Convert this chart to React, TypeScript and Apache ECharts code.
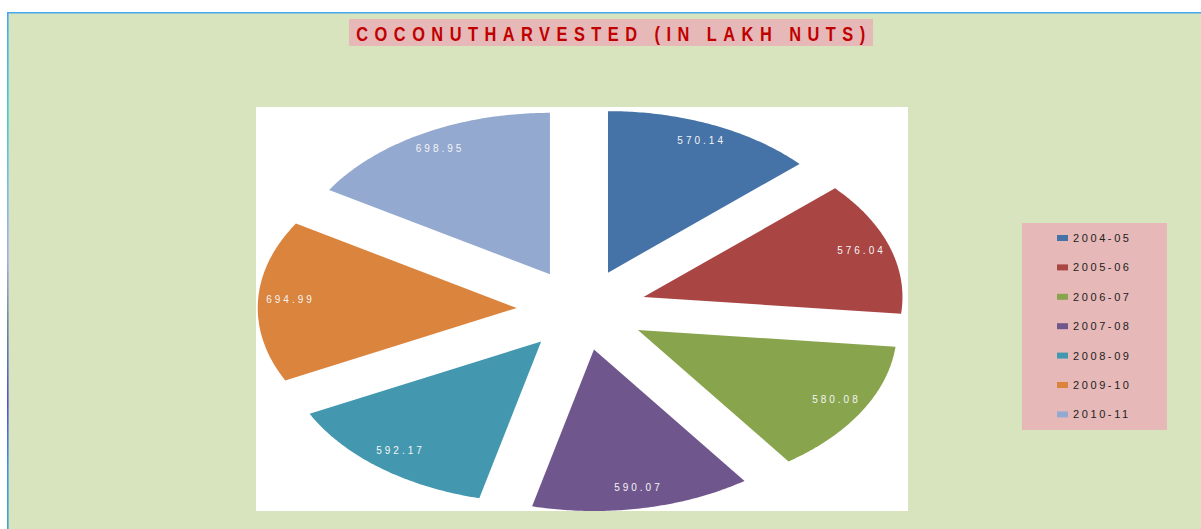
import React, { useEffect, useRef } from "react";
import * as echarts from "echarts";

const categories = ["2004-05", "2005-06", "2006-07", "2007-08", "2008-09", "2009-10", "2010-11"];
const values = [570.14, 576.04, 580.08, 590.07, 592.17, 694.99, 698.95];
const colors = ["#4572A7", "#A94543", "#88A44D", "#6F578E", "#4398AF", "#DB843D", "#93A9CF"];
const titleText = "COCONUTHARVESTED (IN LAKH NUTS)";

const CX = 581.7;
const CY = 309.7;
const RX = 259;
const RY = 161.5;
const EXPLODE = 0.251;
const LABEL_POS = 0.88;

export default function App() {
  const ref = useRef<HTMLDivElement>(null);
  useEffect(() => {
    const chart = echarts.init(ref.current!, null, { renderer: "svg" });
    const total = values.reduce((s, v) => s + v, 0);
    const starts: number[] = [];
    let acc = 0;
    values.forEach((v) => {
      starts.push((acc / total) * Math.PI * 2);
      acc += v;
    });
    const series = categories.map((name, i) => ({
      type: "custom",
      name,
      coordinateSystem: "none",
      data: [[values[i]]],
      renderItem: (_params: any, api: any) => {
        const v = api.value(0) as number;
        const a0 = starts[i];
        const a1 = a0 + (v / total) * Math.PI * 2;
        const mid = (a0 + a1) / 2;
        const tx = CX + EXPLODE * RX * Math.sin(mid);
        const ty = CY - EXPLODE * RY * Math.cos(mid);
        const pts: number[][] = [[tx, ty]];
        const N = 80;
        for (let k = 0; k <= N; k++) {
          const t = a0 + ((a1 - a0) * k) / N;
          pts.push([tx + RX * Math.sin(t), ty - RY * Math.cos(t)]);
        }
        const lx = tx + LABEL_POS * RX * Math.sin(mid);
        const ly = ty - LABEL_POS * RY * Math.cos(mid);
        return {
          type: "group",
          children: [
            { type: "polygon", shape: { points: pts }, style: { fill: api.visual("color") } },
            {
              type: "text",
              x: lx + 1.5,
              y: ly - 2,
              style: {
                text: v.toFixed(2),
                fill: "#f4f4f4",
                fontSize: 10,
                fontFamily: "Liberation Sans",
                align: "center",
                verticalAlign: "middle",
              },
            },
          ],
        };
      },
    }));

    chart.setOption({
      animation: false,
      backgroundColor: "#ffffff",
      color: colors,
      legend: {
        orient: "vertical",
        left: 1057,
        top: 232,
        padding: 0,
        itemWidth: 11,
        itemHeight: 6,
        itemGap: 17.4,
        icon: "rect",
        selectedMode: false,
        data: categories,
        textStyle: { fontSize: 11, lineHeight: 12, color: "#222", fontFamily: "Liberation Sans" },
      },
      graphic: [
        { type: "rect", z: 0, shape: { x: 8, y: 13, width: 1193, height: 516 }, style: { fill: "#D8E4BD" } },
        { type: "rect", z: 1, shape: { x: 7, y: 12, width: 1194, height: 1.5 }, style: { fill: "#45A8F0" } },
        {
          type: "rect",
          z: 1,
          shape: { x: 7, y: 12, width: 1.6, height: 517 },
          style: {
            fill: new echarts.graphic.LinearGradient(0, 0, 0, 1, [
              { offset: 0, color: "#45A8F0" },
              { offset: 0.2, color: "#40CCD8" },
              { offset: 0.33, color: "#70BCE8" },
              { offset: 0.48, color: "#A8A8F0" },
              { offset: 0.6, color: "#6A8AA0" },
              { offset: 0.76, color: "#5050D8" },
              { offset: 0.88, color: "#4090F0" },
              { offset: 1, color: "#3AA8C8" },
            ]),
          },
        },
        { type: "rect", z: 1, shape: { x: 349, y: 19, width: 524, height: 27 }, style: { fill: "#E6B8B7" } },
        {
          type: "text",
          z: 2,
          x: 614,
          y: 34,
          scaleX: 0.82,
          style: {
            text: titleText,
            fill: "#C00000",
            fontSize: 20,
            fontWeight: "bold",
            fontFamily: "Liberation Sans",
            align: "center",
            verticalAlign: "middle",
          },
        },
        { type: "rect", z: 1, shape: { x: 256, y: 107, width: 652, height: 404 }, style: { fill: "#ffffff" } },
        { type: "rect", z: 1, shape: { x: 1022, y: 223, width: 145, height: 207 }, style: { fill: "#E6B8B7" } },
      ],
      series,
    });
    return () => chart.dispose();
  }, []);
  return (
    <>
      <style>{`
        .cc text[style*="20px"]{letter-spacing:7.9px}
        .cc text[style*="11px"]{letter-spacing:2.6px}
        .cc text[style*="10px"]{letter-spacing:3px}
      `}</style>
      <div
        ref={ref}
        className="cc"
        style={{ position: "fixed", left: 0, top: 0, width: 1201, height: 529 }}
      />
    </>
  );
}
